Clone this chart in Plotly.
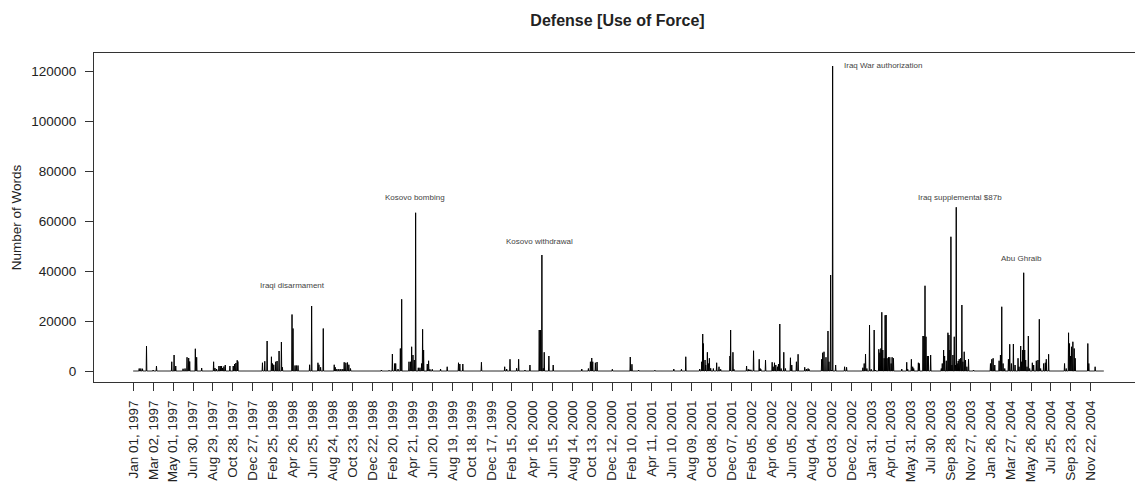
import pandas as pd
import plotly.graph_objects as go

# ---- data (daily words; days not listed are 0) ----
spike_dates = [
    # 1997
    "1997-01-19", "1997-01-24", "1997-01-29", "1997-02-10", "1997-03-02", "1997-03-12",
    "1997-04-27", "1997-05-04", "1997-05-09", "1997-05-31", "1997-06-06", "1997-06-12",
    "1997-06-17", "1997-06-20", "1997-07-07", "1997-07-11", "1997-07-26", "1997-08-31",
    "1997-09-04", "1997-09-09", "1997-09-16", "1997-09-20", "1997-09-24", "1997-09-27",
    "1997-10-01", "1997-10-05", "1997-10-19", "1997-10-29", "1997-11-02", "1997-11-06",
    "1997-11-10", "1997-11-12",
    # 1998
    "1998-01-25", "1998-02-01", "1998-02-08", "1998-02-21", "1998-02-24", "1998-02-28",
    "1998-03-06", "1998-03-10", "1998-03-16", "1998-03-23", "1998-03-26", "1998-04-24",
    "1998-04-27", "1998-05-03", "1998-05-07", "1998-05-12", "1998-06-16", "1998-06-22",
    "1998-07-11", "1998-07-14", "1998-07-19", "1998-07-27", "1998-08-29", "1998-09-01",
    "1998-09-06", "1998-09-12", "1998-09-18", "1998-09-24", "1998-09-28", "1998-10-03",
    "1998-10-08", "1998-10-12", "1998-10-17",
    # 1999
    "1999-01-18", "1999-02-10", "1999-02-20", "1999-02-27", "1999-03-02", "1999-03-09",
    "1999-03-16", "1999-03-20", "1999-04-11", "1999-04-16", "1999-04-19", "1999-04-23",
    "1999-04-27", "1999-05-01", "1999-05-09", "1999-05-14", "1999-05-19", "1999-05-22",
    "1999-05-25", "1999-06-05", "1999-06-09", "1999-06-13", "1999-06-20", "1999-07-15",
    "1999-08-04", "1999-09-07", "1999-09-11", "1999-09-20", "1999-11-15",
    # 2000
    "2000-01-24", "2000-01-30", "2000-02-09", "2000-02-29", "2000-03-06", "2000-03-25",
    "2000-04-09", "2000-05-07", "2000-05-11", "2000-05-15", "2000-05-19", "2000-05-22",
    "2000-06-05", "2000-06-18", "2000-09-12", "2000-10-02", "2000-10-08", "2000-10-12",
    "2000-10-15", "2000-10-23", "2000-10-28", "2000-12-13",
    # 2001
    "2001-02-05", "2001-02-10", "2001-03-02", "2001-04-20", "2001-06-16", "2001-07-09",
    "2001-07-22", "2001-09-02", "2001-09-08", "2001-09-11", "2001-09-13", "2001-09-18",
    "2001-09-20", "2001-09-25", "2001-09-28", "2001-10-01", "2001-10-05", "2001-10-13",
    "2001-10-23", "2001-10-30", "2001-11-04", "2001-12-02", "2001-12-04", "2001-12-11",
    "2001-12-14",
    # 2002
    "2002-01-21", "2002-01-26", "2002-01-30", "2002-02-03", "2002-02-11", "2002-02-28",
    "2002-03-03", "2002-03-05", "2002-03-19", "2002-04-08", "2002-04-11", "2002-04-15",
    "2002-04-19", "2002-04-24", "2002-04-27", "2002-05-01", "2002-05-05", "2002-05-13",
    "2002-05-18", "2002-06-02", "2002-06-06", "2002-06-20", "2002-06-25", "2002-07-15",
    "2002-07-20", "2002-07-25", "2002-07-28", "2002-09-04", "2002-09-07", "2002-09-11",
    "2002-09-17", "2002-09-23", "2002-09-26", "2002-10-01", "2002-10-04", "2002-10-07",
    "2002-10-16", "2002-11-12", "2002-11-18",
    # 2003
    "2003-01-06", "2003-01-10", "2003-01-14", "2003-01-18", "2003-01-26", "2003-01-31",
    "2003-02-09", "2003-02-13", "2003-02-23", "2003-02-26", "2003-03-01", "2003-03-04",
    "2003-03-07", "2003-03-11", "2003-03-14", "2003-03-17", "2003-03-20", "2003-03-24",
    "2003-03-28", "2003-04-01", "2003-04-04", "2003-04-08", "2003-05-03", "2003-05-18",
    "2003-05-21", "2003-06-01", "2003-06-05", "2003-06-08", "2003-06-22", "2003-06-25",
    "2003-07-06", "2003-07-09", "2003-07-12", "2003-07-15", "2003-07-19", "2003-07-22",
    "2003-07-29", "2003-08-30", "2003-09-02", "2003-09-06", "2003-09-09", "2003-09-14",
    "2003-09-19", "2003-09-22", "2003-09-25", "2003-09-28", "2003-10-01", "2003-10-04",
    "2003-10-08", "2003-10-12", "2003-10-14", "2003-10-17", "2003-10-20", "2003-10-23",
    "2003-10-27", "2003-10-31", "2003-11-03", "2003-11-07", "2003-11-11", "2003-11-15",
    "2003-11-20", "2003-12-05",
    # 2004
    "2004-01-25", "2004-01-29", "2004-02-02", "2004-02-07", "2004-02-20", "2004-02-24",
    "2004-02-28", "2004-03-03", "2004-03-08", "2004-03-19", "2004-03-23", "2004-03-28",
    "2004-04-03", "2004-04-08", "2004-04-17", "2004-04-20", "2004-04-25", "2004-04-28",
    "2004-05-01", "2004-05-04", "2004-05-07", "2004-05-10", "2004-05-14", "2004-05-18",
    "2004-05-22", "2004-05-30", "2004-06-03", "2004-06-11", "2004-06-16", "2004-06-20",
    "2004-06-24", "2004-07-03", "2004-07-08", "2004-07-11", "2004-07-18", "2004-09-04",
    "2004-09-09", "2004-09-16", "2004-09-19", "2004-09-22", "2004-09-25", "2004-09-29",
    "2004-10-03", "2004-10-06", "2004-11-13", "2004-11-16", "2004-12-05",
]

spike_words = [
    # 1997
    1000, 1000, 900, 10000, 400, 2000,
    3700, 6400, 2000, 900, 1000, 5500,
    5200, 3800, 8900, 5500, 1200, 3700,
    1200, 800, 2000, 2000, 2000, 1200,
    1800, 2400, 2000, 2000, 2800, 3200,
    4300, 3800,
    # 1998
    3300, 3900, 12000, 5700, 3000, 2500,
    3700, 4000, 8000, 11600, 1500, 22600,
    17000, 2200, 2200, 2200, 2500, 26000,
    3300, 2500, 1500, 17000, 2500, 1500,
    800, 800, 800, 800, 3500, 3300,
    3400, 2500, 1000,
    # 1999
    400, 300, 6800, 3000, 3000, 800,
    9000, 28700, 3700, 3700, 9700, 6400,
    4400, 63300, 1300, 1300, 3000, 16700,
    8400, 2800, 4100, 700, 700, 800,
    1700, 3300, 2800, 2800, 3500,
    # 2000
    1700, 800, 4700, 1100, 4700, 400,
    2400, 16400, 16400, 46400, 1100, 7500,
    6000, 2400, 800, 1000, 3700, 5200,
    3700, 3300, 3600, 700,
    # 2001
    5600, 2700, 400, 300, 800, 700,
    5700, 800, 3700, 14800, 11000, 4400,
    2400, 7500, 3000, 5100, 1100, 1000,
    3300, 1700, 700, 6000, 16400, 7500,
    700,
    # 2002
    2000, 700, 500, 500, 8100, 4700,
    1000, 700, 4400, 3500, 1700, 3300,
    2400, 1700, 2800, 18800, 1000, 7500,
    1000, 5300, 2400, 3700, 6700, 1500,
    800, 1000, 700, 4700, 7300, 7700,
    5500, 16000, 3700, 38400, 400, 122000,
    2400, 1700, 1500,
    # 2003
    1300, 3000, 6800, 1000, 18400, 700,
    16400, 400, 8700, 7300, 9000, 23500,
    8400, 5100, 22300, 22400, 5100, 5500,
    5500, 3000, 5500, 5100, 800, 3500,
    700, 4700, 1700, 1000, 3300, 3000,
    14000, 14000, 34100, 13700, 6000, 6000,
    6400, 1000, 3000, 8400, 6000, 4100,
    15300, 14400, 8400, 53700, 2400, 6400,
    13700, 2400, 65500, 3000, 4000, 4700,
    5100, 26400, 3700, 7700, 4400, 1700,
    4700, 400,
    # 2004
    3000, 4700, 5100, 2400, 4100, 6400,
    25700, 3000, 1000, 4700, 10700, 3000,
    10800, 2400, 5100, 1700, 10000, 3700,
    8400, 39300, 8400, 4400, 1700, 14000,
    1000, 3300, 2400, 4100, 4400, 20700,
    1000, 3000, 3300, 4700, 6700, 3000,
    1000, 15300, 11000, 6000, 9700, 11700,
    9000, 5100, 11000, 3000, 1700,
]

series_start = "1997-01-01"
series_end = "2004-12-31"

tick_dates = [
    "1997-01-01", "1997-03-02", "1997-05-01", "1997-06-30", "1997-08-29", "1997-10-28",
    "1997-12-27", "1998-02-25", "1998-04-26", "1998-06-25", "1998-08-24", "1998-10-23",
    "1998-12-22", "1999-02-20", "1999-04-21", "1999-06-20", "1999-08-19", "1999-10-18",
    "1999-12-17", "2000-02-15", "2000-04-16", "2000-06-15", "2000-08-14", "2000-10-13",
    "2000-12-12", "2001-02-10", "2001-04-11", "2001-06-10", "2001-08-09", "2001-10-08",
    "2001-12-07", "2002-02-05", "2002-04-06", "2002-06-05", "2002-08-04", "2002-10-03",
    "2002-12-02", "2003-01-31", "2003-04-01", "2003-05-31", "2003-07-30", "2003-09-28",
    "2003-11-27", "2004-01-26", "2004-03-27", "2004-05-26", "2004-07-25", "2004-09-23",
    "2004-11-22",
]
tick_labels = [
    "Jan 01, 1997", "Mar 02, 1997", "May 01, 1997", "Jun 30, 1997", "Aug 29, 1997", "Oct 28, 1997",
    "Dec 27, 1997", "Feb 25, 1998", "Apr 26, 1998", "Jun 25, 1998", "Aug 24, 1998", "Oct 23, 1998",
    "Dec 22, 1998", "Feb 20, 1999", "Apr 21, 1999", "Jun 20, 1999", "Aug 19, 1999", "Oct 18, 1999",
    "Dec 17, 1999", "Feb 15, 2000", "Apr 16, 2000", "Jun 15, 2000", "Aug 14, 2000", "Oct 13, 2000",
    "Dec 12, 2000", "Feb 10, 2001", "Apr 11, 2001", "Jun 10, 2001", "Aug 09, 2001", "Oct 08, 2001",
    "Dec 07, 2001", "Feb 05, 2002", "Apr 06, 2002", "Jun 05, 2002", "Aug 04, 2002", "Oct 03, 2002",
    "Dec 02, 2002", "Jan 31, 2003", "Apr 01, 2003", "May 31, 2003", "Jul 30, 2003", "Sep 28, 2003",
    "Nov 27, 2003", "Jan 26, 2004", "Mar 27, 2004", "May 26, 2004", "Jul 25, 2004", "Sep 23, 2004",
    "Nov 22, 2004",
]

y_ticks = [0, 20000, 40000, 60000, 80000, 100000, 120000]

event_labels = ["Iraqi disarmament", "Kosovo bombing", "Kosovo withdrawal",
                "Iraq War authorization", "Iraq supplemental $87b", "Abu Ghraib"]
event_dates = ["1998-04-25", "1999-04-28", "2000-05-07", "2003-03-07", "2003-10-25", "2004-04-26"]
event_levels = [34100, 69500, 52000, 122400, 69500, 45000]

# ---- build the daily series ----
days = pd.date_range(series_start, series_end, freq="D")
words = pd.Series(0.0, index=days)
words.loc[pd.to_datetime(spike_dates)] = spike_words

FONT = "Liberation Sans, Arial, Helvetica, sans-serif"
INK = "#222222"

fig = go.Figure()
fig.add_trace(go.Scatter(
    x=words.index, y=words.values, mode="lines",
    line=dict(color="black", width=1, simplify=False),
    hoverinfo="x+y", showlegend=False,
))

for lab, d, lv in zip(event_labels, event_dates, event_levels):
    fig.add_annotation(x=d, y=lv, text=lab, showarrow=False,
                       xanchor="center", yanchor="middle",
                       font=dict(family=FONT, size=8, color="#444444"))

fig.update_layout(
    width=1135, height=483,
    margin=dict(l=94, r=0, t=53, b=101),
    paper_bgcolor="white", plot_bgcolor="white",
    font=dict(family=FONT, color=INK),
    title=dict(text="<b>Defense [Use of Force]</b>", font=dict(family=FONT, size=16, color=INK),
               xref="container", x=617.5 / 1135, xanchor="center",
               yref="container", y=1 - 20 / 483, yanchor="middle"),
    xaxis=dict(type="date", range=["1996-09-05", "2005-04-04"],
               tickmode="array", tickvals=tick_dates, ticktext=tick_labels,
               tickangle=-90, ticks="outside", ticklen=8, tickcolor="#333333",
               tickfont=dict(family=FONT, size=13.5, color=INK),
               ticklabelstandoff=4, automargin=False,
               showline=True, linecolor="#333333", linewidth=1, mirror=True,
               showgrid=False, zeroline=False),
    yaxis=dict(range=[-4400, 127200], tickmode="array", tickvals=y_ticks, tickformat="d",
               ticks="outside", ticklen=8, tickcolor="#333333",
               tickfont=dict(family=FONT, size=13.5, color=INK),
               ticklabelstandoff=6, automargin=False,
               showline=True, linecolor="#333333", linewidth=1, mirror=False,
               showgrid=False, zeroline=False,
               title=dict(text="Number of Words", font=dict(family=FONT, size=13.5, color=INK),
                          standoff=6)),
)

fig.write_html("out.html", config={"displayModeBar": False},
               post_script="document.body.style.margin='0px';document.body.style.overflow='hidden';")
